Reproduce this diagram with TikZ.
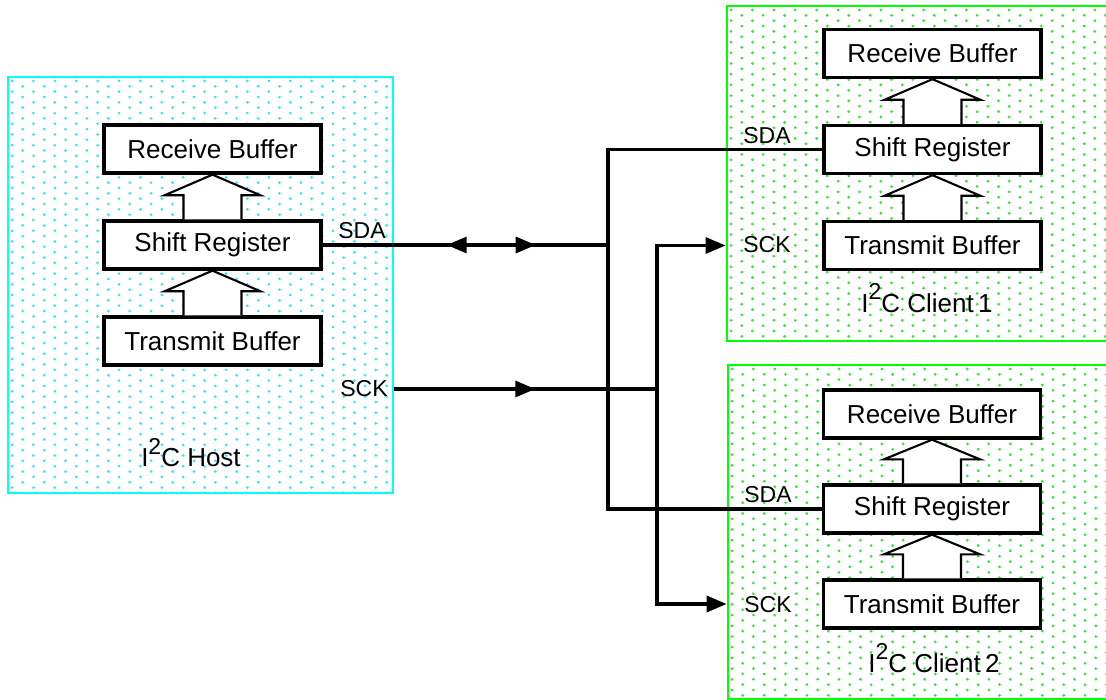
\documentclass[tikz,border=0pt]{standalone}
\usepackage{fontspec}
\setmainfont{Liberation Sans}
\usetikzlibrary{arrows.meta,decorations.markings,calc}
\definecolor{brcyan}{RGB}{0,255,255}
\definecolor{brgreen}{RGB}{0,255,0}
\definecolor{dotcyan}{RGB}{40,235,245}
\definecolor{dotgreen}{RGB}{40,235,40}
\tikzset{wtip/.tip={Triangle[length=20pt,width=16pt]}}
\newcommand\dotfield[5]{%
  \begin{scope}
    \clip (#2,#3) rectangle (#4,#5);
    \foreach \i in {0,...,37} {
      \foreach \j in {0,...,40} {
        \fill[#1] ({#2+3+\i*10.7},{#3+3+\j*10.7+mod(\i,2)*5.35}) circle[radius=1.5pt];
      }
    }
  \end{scope}}
\newcommand\blkarrow[2]{%
  \draw[blockarr] ($(#1.north)+(-29,0)$) -- ++(0,-24) -- ++(-19,0) -- (#2.south)
    -- ($(#1.north)+(48,-24)$) -- ++(-19,0) -- ($(#1.north)+(29,0)$);}
\begin{document}
\begin{tikzpicture}[x=1pt,y=-1pt,
  unitbox/.style={draw=black,line width=3.4pt,fill=white,minimum width=217pt,
    minimum height=48pt,inner sep=0pt,font=\fontsize{26}{30}\selectfont},
  hostframe/.style={draw=brcyan,line width=2.6pt,inner sep=0pt},
  clientframe/.style={draw=brgreen,line width=2.8pt,inner sep=0pt},
  blockarr/.style={draw=black,line width=2.1pt,fill=white,line join=miter},
  sig/.style={font=\fontsize{23}{26}\selectfont,inner sep=0pt,anchor=base},
  caption/.style={font=\fontsize{26}{30}\selectfont,inner sep=0pt,anchor=base},
  wire/.style={draw=black,line width=3.2pt},
  sdamarks/.style={postaction={decorate},decoration={markings,
    mark=at position 124pt with {\arrowreversed{wtip}},
    mark=at position 213pt with {\arrow{wtip}}}},
  sckmark/.style={postaction={decorate},decoration={markings,
    mark=at position 141pt with {\arrow{wtip}}}}
]
\useasboundingbox (0,0) rectangle (1106,700);

% dotted fills
\dotfield{dotcyan}{9}{78}{392}{492}
\dotfield{dotgreen}{728}{7}{1110}{340}
\dotfield{dotgreen}{729}{366}{1110}{698}

% frames
\node[hostframe,minimum width=385pt,minimum height=416pt] (host) at (200.5,285) {};
\node[clientframe,minimum width=385pt,minimum height=335pt] (c1) at (919.5,173.5) {};
\node[clientframe,minimum width=384pt,minimum height=334pt] (c2) at (920,532) {};

% host
\node[unitbox] (hrb) at (212.5,149) {Receive Buffer};
\node[unitbox] (hsr) at (212.5,245) {Shift Register};
\node[unitbox] (htb) at (212.5,341) {Transmit Buffer};
\blkarrow{hsr}{hrb}
\blkarrow{htb}{hsr}
\node[caption] (hcap) at (191,467) {I\raisebox{13pt}{\fontsize{23}{23}\selectfont 2}C Host};
\node[sig] (hsda) at (362,239) {SDA};
\node[sig] (hsck) at (364,397) {SCK};

% client 1
\node[unitbox] (c1rb) at (932.5,53.5) {Receive Buffer};
\node[unitbox] (c1sr) at (932.5,149.5) {Shift Register};
\node[unitbox] (c1tb) at (932.5,245.5) {Transmit Buffer};
\blkarrow{c1sr}{c1rb}
\blkarrow{c1tb}{c1sr}
\node[caption] (c1cap) at (927,313) {I\raisebox{13pt}{\fontsize{23}{23}\selectfont 2}C Client\,1};
\node[sig] (c1sda) at (767,144) {SDA};
\node[sig] (c1sck) at (767,253) {SCK};

% client 2
\node[unitbox] (c2rb) at (932,414) {Receive Buffer};
\node[unitbox] (c2sr) at (932,509) {Shift Register};
\node[unitbox] (c2tb) at (932,604) {Transmit Buffer};
\blkarrow{c2sr}{c2rb}
\blkarrow{c2tb}{c2sr}
\node[caption] (c2cap) at (934,672) {I\raisebox{13pt}{\fontsize{23}{23}\selectfont 2}C Client\,2};
\node[sig] (c2sda) at (768,502) {SDA};
\node[sig] (c2sck) at (768,612) {SCK};

% wires
\coordinate (sdaj) at (608,245);
\coordinate (sckj) at (657,389);
\draw[wire,sdamarks] (hsr.east) -- (sdaj);
\draw[wire] (c1sr.west) -| (sdaj);
\draw[wire] (c2sr.west) -| (sdaj);
\draw[wire,sckmark] (host.east |- sckj) -- (sckj);
\draw[wire,-wtip] (sckj) |- (c1.west |- c1tb.west);
\draw[wire,-wtip] (sckj) |- (c2.west |- c2tb.west);
\end{tikzpicture}
\end{document}
